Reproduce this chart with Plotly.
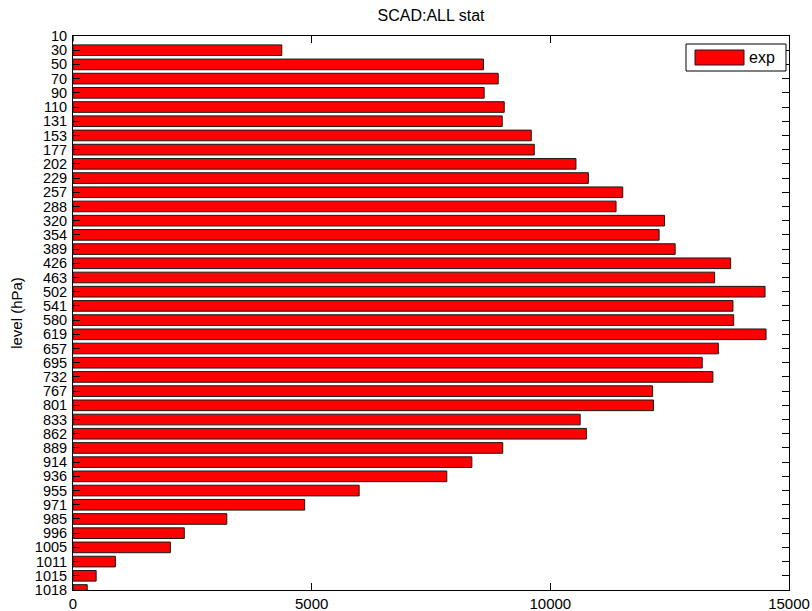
import plotly.graph_objects as go

levels = ["10", "30", "50", "70", "90", "110", "131", "153", "177", "202", "229", "257",
          "288", "320", "354", "389", "426", "463", "502", "541", "580", "619", "657",
          "695", "732", "767", "801", "833", "862", "889", "914", "936", "955", "971",
          "985", "996", "1005", "1011", "1015", "1018"]
counts = [0, 4374, 8600, 8908, 8614, 9034, 8992, 9601, 9664, 10537, 10797, 11517,
          11377, 12393, 12279, 12615, 13778, 13442, 14498, 13826, 13841, 14519, 13520,
          13182, 13406, 12143, 12162, 10625, 10755, 9003, 8356, 7831, 5995, 4853,
          3222, 2332, 2040, 888, 485, 298]
series_name = "exp"
x_ticks = [0, 5000, 10000, 15000]

FONT = "Liberation Sans, Arial, sans-serif"

fig = go.Figure()
fig.add_trace(go.Bar(
    y=levels, x=counts, orientation="h", name=series_name,
    marker=dict(color="#ff0000", line=dict(color="#1a1a1a", width=1)),
    width=0.75, showlegend=False,
))

axis_common = dict(
    showline=True, linecolor="#000000", linewidth=1, mirror="ticks",
    ticks="inside", tickcolor="#000000", showgrid=False, zeroline=False,
)

fig.update_xaxes(range=[0, 15000], tickmode="array", tickvals=x_ticks,
                 ticktext=[str(v) for v in x_ticks], ticklen=7, ticklabelstandoff=0,
                 tickfont=dict(family=FONT, size=15, color="#000000"), **axis_common)
fig.update_yaxes(type="category", categoryorder="array", categoryarray=levels,
                 tickmode="array", tickvals=levels, ticktext=levels,
                 range=[len(levels) - 1, 0], ticklen=7, ticklabelstandoff=2,
                 tickfont=dict(family=FONT, size=14.5, color="#000000"),
                 title=dict(text="level (hPa)", font=dict(family=FONT, size=15, color="#000000"),
                            standoff=8),
                 **axis_common)

# manual legend box (MATLAB style)
fig.add_shape(type="rect", xref="paper", yref="paper",
              x0=(686 - 73) / 716, x1=(786 - 73) / 716,
              y0=(590 - 71) / 554, y1=(590 - 44) / 554,
              line=dict(color="#000000", width=1), fillcolor="#ffffff")
fig.add_shape(type="rect", xref="paper", yref="paper",
              x0=(695 - 73) / 716, x1=(744 - 73) / 716,
              y0=(590 - 65) / 554, y1=(590 - 50) / 554,
              line=dict(color="#1a1a1a", width=1), fillcolor="#ff0000")
fig.add_annotation(text=series_name, xref="paper", yref="paper",
                   x=(747 - 73) / 716, y=(590 - 57.5) / 554, xanchor="left", yanchor="middle",
                   showarrow=False, font=dict(family=FONT, size=16, color="#000000"))

fig.update_layout(
    width=812, height=611,
    margin=dict(l=73, r=23, t=36, b=21, autoexpand=False),
    paper_bgcolor="#ffffff", plot_bgcolor="#ffffff",
    title=dict(text="SCAD:ALL stat", x=431 / 812, xanchor="center", y=1 - 15 / 611,
               yanchor="middle", font=dict(family=FONT, size=16, color="#000000")),
)

fig.write_html("out.html")
